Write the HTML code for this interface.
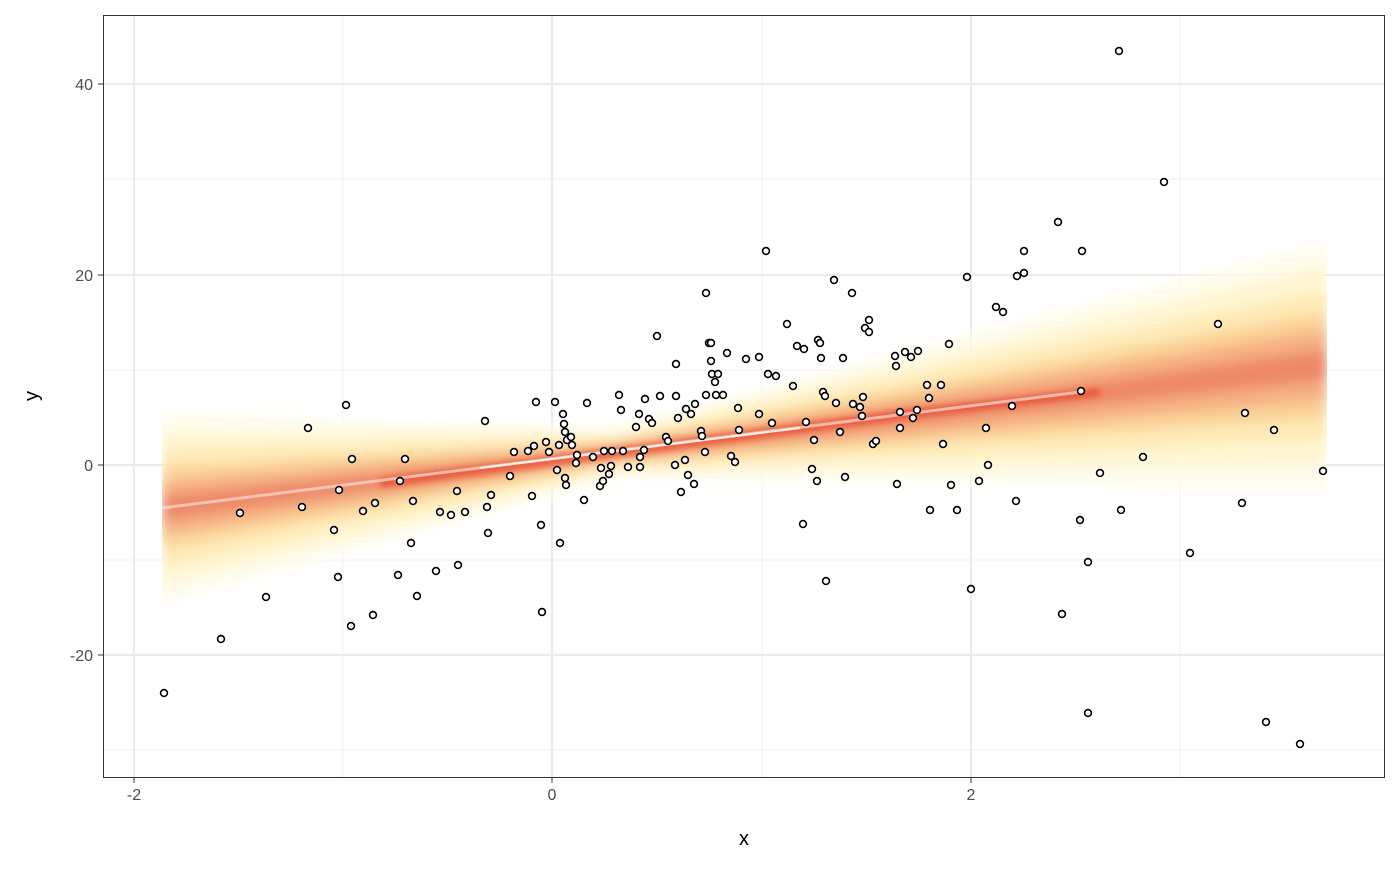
<!DOCTYPE html><html><head><style>body{margin:0;background:#fff}svg text{font-family:"Liberation Sans",sans-serif}</style></head><body>
<svg width="1400" height="866" xmlns="http://www.w3.org/2000/svg">
<defs><filter id="b" x="-5%" y="-20%" width="110%" height="140%"><feGaussianBlur stdDeviation="6"/></filter><filter id="b2" x="-5%" y="-50%" width="110%" height="200%"><feGaussianBlur stdDeviation="3"/></filter><clipPath id="c"><rect x="162" y="15" width="1165" height="763"/></clipPath></defs>
<rect x="103" y="15" width="1282" height="763" fill="#fff"/>
<g stroke="#f2f2f2" stroke-width="1">
<line x1="343" y1="15" x2="343" y2="778"/><line x1="762" y1="15" x2="762" y2="778"/><line x1="1180" y1="15" x2="1180" y2="778"/>
<line x1="103" y1="179" x2="1385" y2="179"/><line x1="103" y1="370" x2="1385" y2="370"/><line x1="103" y1="560" x2="1385" y2="560"/><line x1="103" y1="750" x2="1385" y2="750"/>
</g>
<g stroke="#ebebeb" stroke-width="2">
<line x1="134" y1="15" x2="134" y2="778"/><line x1="552" y1="15" x2="552" y2="778"/><line x1="971" y1="15" x2="971" y2="778"/>
<line x1="103" y1="84" x2="1385" y2="84"/><line x1="103" y1="275" x2="1385" y2="275"/><line x1="103" y1="465" x2="1385" y2="465"/><line x1="103" y1="655" x2="1385" y2="655"/>
</g>
<g clip-path="url(#c)"><g filter="url(#b)">
<polygon points="162,413 615,428 1327,241 1327,489 615,477 162,603" fill="#fffbe8" opacity="0.8"/>
<polygon points="162,432 615,433 1327,266 1327,464 615,472 162,584" fill="#fff2c4" opacity="0.7"/>
<polygon points="162,451 615,438 1327,291 1327,439 615,467 162,565" fill="#fde2a0" opacity="0.6"/>
<polygon points="162,468 615,442 1327,313 1327,417 615,463 162,548" fill="#f9bf84" opacity="0.6"/>
<polygon points="162,482 615,445 1327,331 1327,399 615,460 162,534" fill="#f19a74" opacity="0.6"/>
<polygon points="162,496 615,449 1327,350 1327,380 615,456 162,520" fill="#e86a50" opacity="0.55"/>
</g>
<polygon filter="url(#b2)" points="380,478 615,448 900,410 1100,388 1100,396 900,420 615,458 380,488" fill="#e63a22" opacity="0.6"/>
</g>
<line x1="162" y1="508" x2="1080" y2="392" stroke="#ffdcd6" stroke-width="3" opacity="0.7"/>
<line x1="480" y1="468" x2="800" y2="428" stroke="#fff" stroke-width="2" opacity="0.8"/>
<g fill="#fff" stroke="#000" stroke-width="1.6" id="pts"></g>
<rect x="103.5" y="15.5" width="1281" height="762" fill="none" stroke="#333" stroke-width="1"/>
<g stroke="#333"><line x1="134" y1="778" x2="134" y2="783"/><line x1="552" y1="778" x2="552" y2="783"/><line x1="971" y1="778" x2="971" y2="783"/>
<line x1="98" y1="84" x2="103" y2="84"/><line x1="98" y1="275" x2="103" y2="275"/><line x1="98" y1="465" x2="103" y2="465"/><line x1="98" y1="655" x2="103" y2="655"/></g>
<g fill="#4d4d4d" font-size="16"><text x="134" y="800" text-anchor="middle">-2</text><text x="552" y="800" text-anchor="middle">0</text><text x="971" y="800" text-anchor="middle">2</text>
<text x="93" y="90" text-anchor="end">40</text><text x="93" y="281" text-anchor="end">20</text><text x="93" y="471" text-anchor="end">0</text><text x="93" y="661" text-anchor="end">-20</text></g>
<text x="744" y="845" text-anchor="middle" font-size="20">x</text>
<text x="38" y="396" text-anchor="middle" font-size="20" transform="rotate(-90 38 396)">y</text>
</svg>
<script>
var p=[[164,693],[221,639],[240,513],[266,597],[302,507],[308,428],[334,530],[338,577],[339,490],[346,405],[351,626],[352,459],[363,511],[373,615],[375,503],[398,575],[400,481],[405,459],[411,543],[413,501],[417,596],[440,512],[436,571],[451,515],[457,491],[458,565],[465,512],[485,421],[487,507],[488,533],[491,495],[510,476],[514,452],[528,451],[532,496],[536,402],[534,446],[541,525],[542,612],[546,442],[549,452],[555,402],[557,470],[559,445],[560,543],[563,414],[564,424],[565,432],[566,485],[567,440],[565,478],[571,437],[572,445],[576,463],[577,455],[584,500],[587,403],[593,457],[600,486],[601,468],[603,481],[604,451],[609,474],[611,466],[612,451],[619,395],[621,410],[623,451],[628,467],[636,427],[639,414],[640,457],[640,467],[644,450],[645,399],[649,419],[652,423],[657,336],[660,396],[666,437],[668,441],[675,465],[676,364],[676,396],[678,418],[681,492],[685,460],[686,409],[688,475],[691,414],[694,484],[695,404],[701,431],[702,436],[705,452],[706,293],[706,395],[709,343],[711,343],[711,361],[712,374],[715,382],[716,395],[718,374],[723,395],[727,353],[731,456],[735,462],[738,408],[739,430],[746,359],[759,357],[759,414],[766,251],[768,374],[772,423],[776,376],[787,324],[793,386],[797,346],[803,524],[804,349],[806,422],[812,469],[814,440],[817,481],[818,340],[820,343],[821,358],[823,392],[825,396],[826,581],[834,280],[836,403],[840,432],[843,358],[845,477],[852,293],[853,404],[860,407],[862,416],[863,397],[865,328],[869,332],[869,320],[873,444],[876,441],[895,356],[896,366],[897,484],[900,412],[900,428],[905,352],[911,357],[913,418],[917,410],[918,351],[927,385],[929,398],[930,510],[941,385],[943,444],[949,344],[951,485],[957,510],[967,277],[971,589],[979,481],[986,428],[988,465],[996,307],[1003,312],[1012,406],[1016,501],[1017,276],[1024,251],[1024,273],[1058,222],[1062,614],[1080,520],[1081,391],[1082,251],[1088,562],[1088,713],[1100,473],[1119,51],[1121,510],[1143,457],[1164,182],[1190,553],[1218,324],[1242,503],[1245,413],[1266,722],[1274,430],[1300,744],[1323,471]];
var g=document.getElementById('pts'),s='';p.forEach(function(q){s+='<circle cx="'+q[0]+'" cy="'+q[1]+'" r="3.4"/>';});g.innerHTML=s;
</script>
</body></html>
